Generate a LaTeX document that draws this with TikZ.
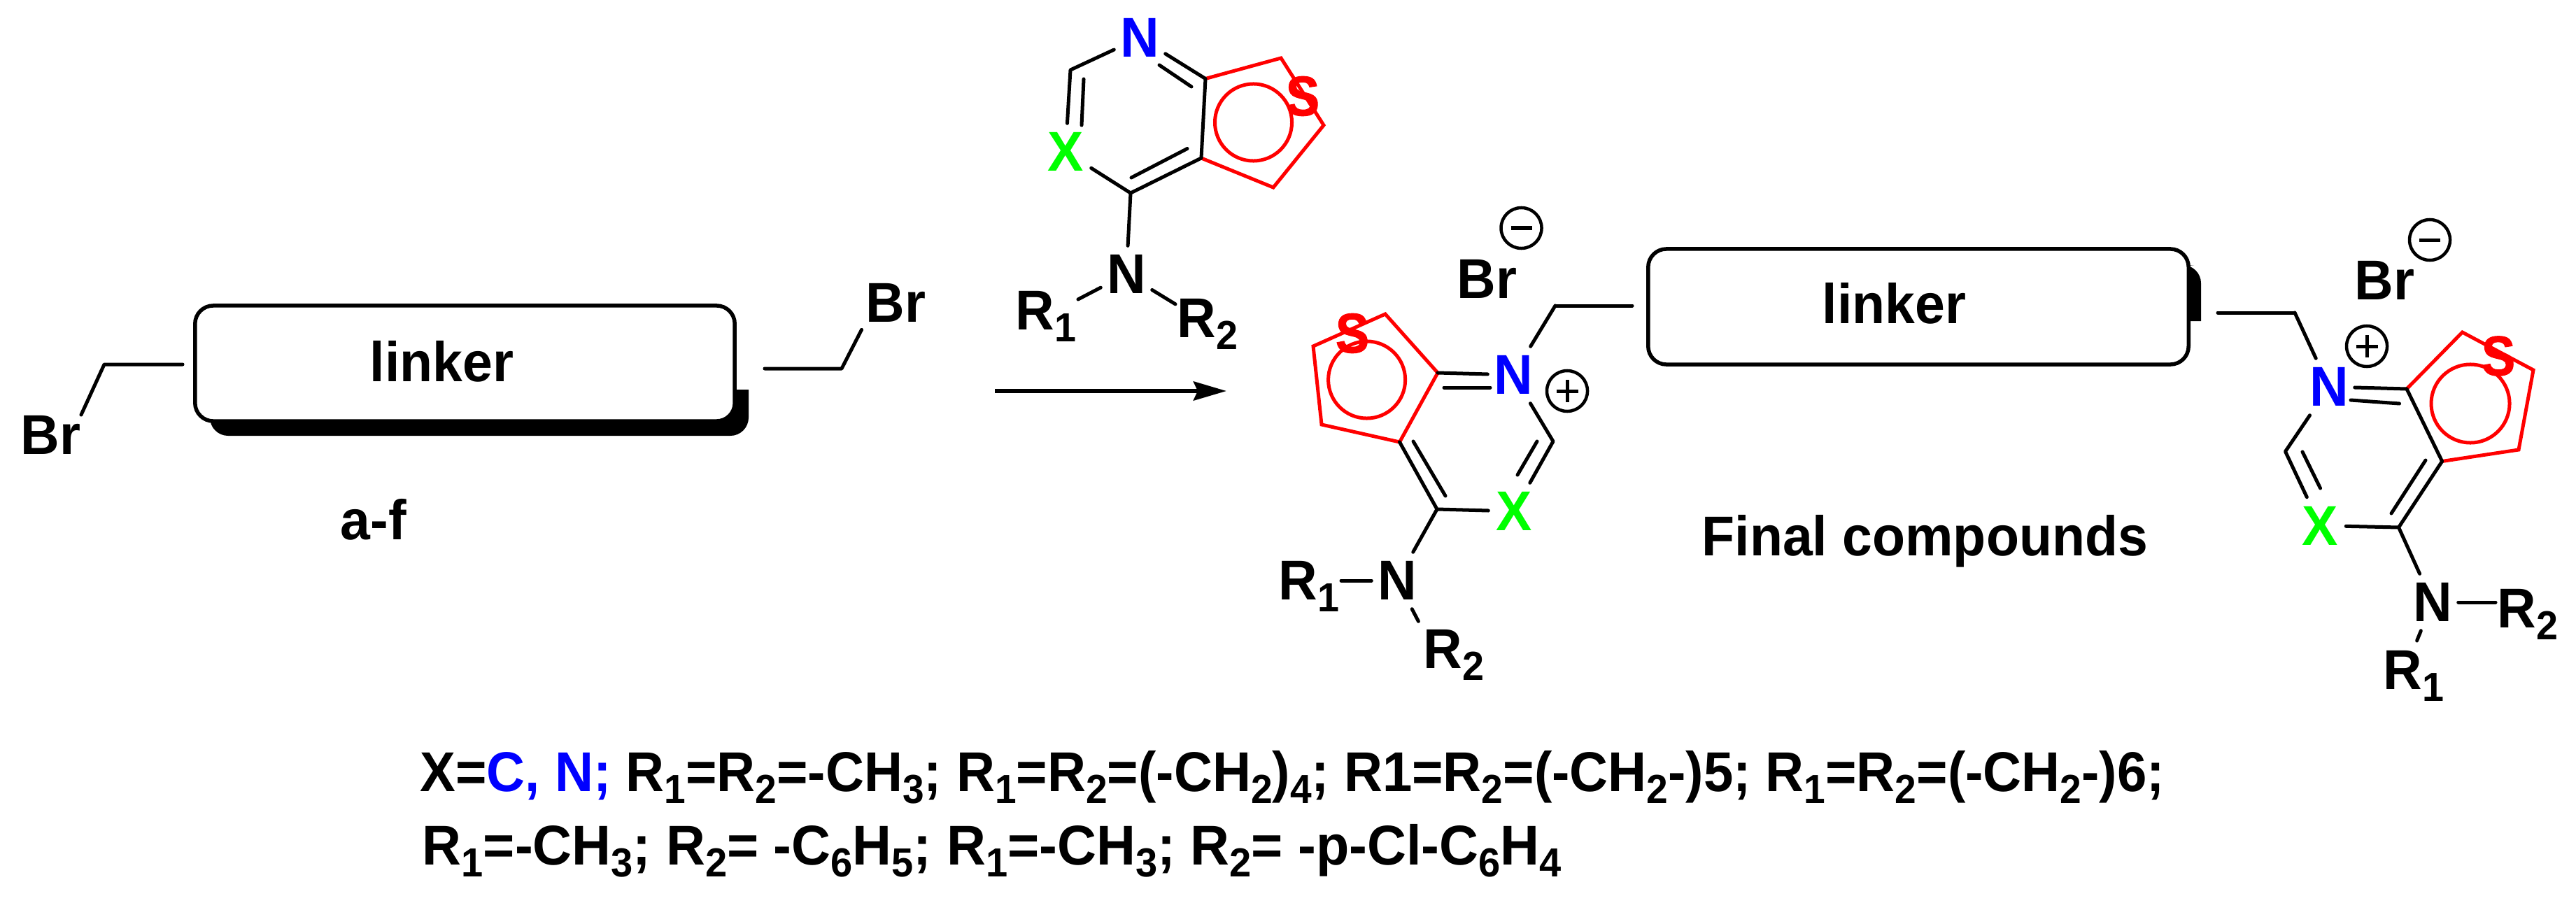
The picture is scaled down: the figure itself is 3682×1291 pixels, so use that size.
\documentclass[tikz,border=0pt]{standalone}
\usepackage{graphicx}
\usepackage{fontspec}
\setmainfont{Liberation Sans}[FakeStretch=0.96,BoldFeatures={FakeStretch=0.96}]
\newfontfamily\heavyfont{Liberation Sans Bold}[FakeBold=1.2,FakeStretch=0.9]
\usetikzlibrary{arrows.meta}
\definecolor{atomblue}{RGB}{0,0,255}
\definecolor{atomgreen}{RGB}{0,255,0}
\definecolor{ringred}{RGB}{255,0,0}
\newcommand{\lab}{\fontsize{22.8pt}{24pt}\selectfont\bfseries}
\newcommand{\sbs}[1]{\raisebox{-0.17cm}{\fontsize{16.5pt}{17pt}\selectfont #1}}
\tikzset{
  bond/.style={line width=.05cm,line cap=round,line join=round,black},
  redbond/.style={line width=.05cm,line join=miter,ringred},
  atomlab/.style={rectangle,minimum width=.72cm,minimum height=.80cm,inner sep=0pt,font=\lab},
  sulfur/.style={atomlab,text=ringred,font={\fontsize{22.8pt}{24pt}\heavyfont}},
  plainlab/.style={inner sep=0pt,font=\lab,anchor=base west},
  rlab/.style={inner sep=.02cm,font=\lab,anchor=base west},
  ringc/.style={circle,draw=ringred,line width=.05cm,inner sep=0pt,minimum size=1.10cm},
  linkerbox/.style={draw=black,fill=white,line width=.055cm,rounded corners=.26cm,minimum width=7.71cm,minimum height=1.65cm,inner sep=0pt},
  chgbase/.style={circle,draw=black,line width=.045cm,inner sep=0pt,minimum size=.58cm},
  chgminus/.style={chgbase,path picture={\draw[line width=.05cm] ([xshift=-.15cm]path picture bounding box.center) -- ([xshift=.15cm]path picture bounding box.center);}},
  chgplus/.style={chgbase,path picture={\draw[line width=.05cm] ([xshift=-.155cm]path picture bounding box.center) -- ([xshift=.155cm]path picture bounding box.center) ([yshift=-.155cm]path picture bounding box.center) -- ([yshift=.155cm]path picture bounding box.center);}},
}
\begin{document}
\begin{tikzpicture}[x=0.01cm,y=-0.01cm]
\useasboundingbox (0,0) rectangle (3682,1291);

%% ---- starting material ----
\fill[black] (1030,557) -- (1070,557) {[rounded corners=.26cm] -- (1070,623) -- (300,623) -- (300,560)} -- cycle;
\node[linkerbox] (boxA) at (664.5,519.5) {};
\node[plainlab] (linkA) at (528,545) {linker};
\node[plainlab] (brL) at (29,649) {Br};
\node[plainlab] (brR) at (1237,460) {Br};
\node[plainlab] (af) at (486,771) {a-f};
\coordinate (cL) at (149,521);
\coordinate (cR) at (1203,527);
\draw[bond,shorten >=.15cm] (brL.north east) -- (cL) -- (boxA.west |- cL);
\draw[bond,shorten <=.12cm,shorten >=.40cm] (brR.south west) -- (cR) -- (boxA.east |- cR);

%% ---- reaction arrow ----
\coordinate (arrS) at (1422,559);
\coordinate (arrE) at (1753,559);
\draw[line width=.06cm,-{Stealth[length=.47cm,width=.27cm,inset=.06cm]}] (arrS) -- (arrE);

%% ---- reagent (top) ----
\coordinate (a2) at (1530,100);
\coordinate (a7a) at (1723,112.5);
\coordinate (a3a) at (1717,226);
\coordinate (a4) at (1616,276);
\coordinate (ar1) at (1831,83);
\coordinate (ar2) at (1892,179);
\coordinate (ar3) at (1820,268);
\draw[redbond] (a7a) -- (ar1) -- (ar2) -- (ar3) -- (a3a);
\node[ringc] (ringA) at (1791.5,175) {};
\node[atomlab,text=atomblue] (nA) at (1629,54) {N};
\node[atomlab,text=atomgreen] (xA) at (1523,217) {X};
\node[sulfur] (sA) at (1862,137.5) {S};
\node[atomlab] (amA) at (1610,392) {N};
\node[rlab] (rA1) at (1449,471) {R\sbs{1}};
\node[rlab] (rA2) at (1680,482) {R\sbs{2}};
\draw[bond] (nA) -- (a2) -- (xA);
\draw[bond] (nA) -- (a7a) -- (a3a) -- (a4) -- (xA);
\draw[bond] (a4) -- (amA);
\draw[bond] (amA) -- (rA1);
\draw[bond] (amA) -- (rA2);
\coordinate (ai1) at (1549,113); \coordinate (ai2) at (1546,179);
\coordinate (ai3) at (1657,93); \coordinate (ai4) at (1703,124);
\coordinate (ai5) at (1697,212.5); \coordinate (ai6) at (1617,254);
\draw[bond] (ai1) -- (ai2);
\draw[bond] (ai3) -- (ai4);
\draw[bond] (ai5) -- (ai6);

%% ---- product, left half ----
\coordinate (b7a) at (2055,533);
\coordinate (b3a) at (2000.5,632);
\coordinate (b4) at (2054,728);
\coordinate (b2) at (2220,631);
\coordinate (br1) at (1980,449);
\coordinate (br2) at (1877,495);
\coordinate (br3) at (1889,607);
\coordinate (bch) at (2223,437);
\draw[redbond] (b7a) -- (br1) -- (br2) -- (br3) -- (b3a) -- cycle;
\node[ringc] (ringB) at (1953.6,543) {};
\node[atomlab,text=atomblue] (nB) at (2163,536) {N};
\node[atomlab,text=atomgreen] (xB) at (2164,731) {X};
\node[sulfur] (sB) at (1933,476.5) {S};
\node[atomlab] (amB) at (1997,830) {N};
\node[rlab] (rB1) at (1825,857.6) {R\sbs{1}};
\node[rlab] (rB2) at (2032,955) {R\sbs{2}};
\node[plainlab] (brB) at (2082,426) {Br};
\node[chgminus] (minB) at (2174.5,326) {};
\node[chgplus] (plusB) at (2240,559) {};
\draw[bond] (nB) -- (b7a);
\draw[bond] (nB) -- (b2) -- (xB) -- (b4) -- (b3a);
\draw[bond] (b4) -- (amB);
\draw[bond] (amB.west) -- (amB.west -| rB1.east);
\draw[bond,shorten >=.10cm] (amB) -- (rB2.north west);
\draw[bond] (nB) -- (bch);
\coordinate (bi1) at (2064,554); \coordinate (bi2) at (2130,554);
\coordinate (bi3) at (2197,631); \coordinate (bi4) at (2169,679);
\coordinate (bi5) at (2066,709); \coordinate (bi6) at (2020,631);
\draw[bond] (bi1) -- (bi2);
\draw[bond] (bi3) -- (bi4);
\draw[bond] (bi5) -- (bi6);

%% ---- product linker ----
\fill[black] (3110,459) -- (3146,459) {[rounded corners=.26cm] -- (3146,379) -- (3110,379)} -- cycle;
\node[linkerbox,minimum width=7.72cm] (boxB) at (2742,438.5) {};
\node[plainlab] (linkB) at (2604,462) {linker};
\draw[bond,shorten >=.20cm] (bch) -- (boxB.west |- bch);

%% ---- product, right half ----
\coordinate (c7a) at (3440,556);
\coordinate (c3a) at (3490.6,659.5);
\coordinate (c4) at (3428.5,754);
\coordinate (c2) at (3266.5,645.5);
\coordinate (cr1) at (3519.5,475);
\coordinate (cr2) at (3621,529);
\coordinate (cr3) at (3600,643);
\coordinate (cch) at (3280,447);
\draw[redbond] (c7a) -- (cr1) -- (cr2) -- (cr3) -- (c3a);
\node[ringc,minimum size=1.12cm] (ringC) at (3531,577) {};
\node[atomlab,text=atomblue] (nC) at (3329,553) {N};
\node[atomlab,text=atomgreen] (xC) at (3316.5,751.5) {X};
\node[sulfur] (sC) at (3571,509) {S};
\node[atomlab] (amC) at (3477,861) {N};
\node[rlab] (rC1) at (3404,985) {R\sbs{1}};
\node[rlab] (rC2) at (3567,897.6) {R\sbs{2}};
\node[plainlab] (brC) at (3365,428) {Br};
\node[chgminus] (minC) at (3473,343) {};
\node[chgplus] (plusC) at (3383,495) {};
\draw[bond] (nC) -- (c7a) -- (c3a) -- (c4) -- (xC) -- (c2) -- (nC);
\draw[bond] (c4) -- (amC);
\draw[bond] (amC.east) -- (amC.east -| rC2.west);
\draw[bond,shorten >=.12cm] (amC) -- (rC1.north);
\draw[bond] (nC) -- (cch);
\draw[bond,shorten >=.39cm] (cch) -- (boxB.east |- cch);
\coordinate (ci1) at (3360,572); \coordinate (ci2) at (3429.5,577);
\coordinate (ci3) at (3291,646); \coordinate (ci4) at (3316.5,698);
\coordinate (ci5) at (3418,734); \coordinate (ci6) at (3467,658);
\draw[bond] (ci1) -- (ci2);
\draw[bond] (ci3) -- (ci4);
\draw[bond] (ci5) -- (ci6);

%% ---- captions ----
\node[plainlab] (fin) at (2432,794) {Final compounds};
\node[plainlab] (line1) at (600,1131) {\scalebox{.989}[1]{X=\textcolor{atomblue}{C, N;} R\sbs{1}=R\sbs{2}=-CH\sbs{3}; R\sbs{1}=R\sbs{2}=(-CH\sbs{2})\sbs{4}; R1=R\sbs{2}=(-CH\sbs{2}-)5; R\sbs{1}=R\sbs{2}=(-CH\sbs{2}-)6;}};
\node[plainlab] (line2) at (603,1236) {\scalebox{1.006}[1]{R\sbs{1}=-CH\sbs{3}; R\sbs{2}= -C\sbs{6}H\sbs{5}; R\sbs{1}=-CH\sbs{3}; R\sbs{2}= -p-Cl-C\sbs{6}H\sbs{4}}};
\end{tikzpicture}
\end{document}
